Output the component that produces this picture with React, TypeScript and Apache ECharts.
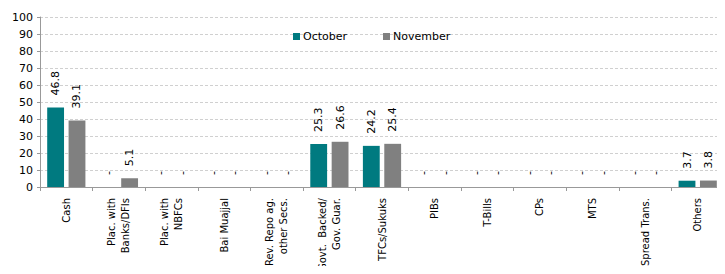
import React, { useEffect, useRef } from "react";
import * as echarts from "echarts";

const categories = [
  "Cash",
  "Plac. with\nBanks/DFIs",
  "Plac. with\nNBFCs",
  "Bai Muajjal",
  "Rev. Repo ag.\nother Secs.",
  "Govt.  Backed/\nGov. Guar.",
  "TFCs/Sukuks",
  "PIBs",
  "T-Bills",
  "CPs",
  "MTS",
  "Spread Trans.",
  "Others",
];
const october = [46.8, 0, 0, 0, 0, 25.3, 24.2, 0, 0, 0, 0, 0, 3.7];
const november = [39.1, 5.1, 0, 0, 0, 26.6, 25.4, 0, 0, 0, 0, 0, 3.8];
const seriesNames = ["October", "November"];
const colors = ["#007A80", "#808080"];

const FONT = "DejaVu Sans";

export default function App() {
  const ref = useRef<HTMLDivElement>(null);
  useEffect(() => {
    if (!ref.current) return;
    const chart = echarts.init(ref.current, undefined, { renderer: "svg" });
    const label = {
      show: true,
      position: "top",
      rotate: 90,
      align: "left",
      verticalAlign: "middle",
      distance: 12,
      fontFamily: FONT,
      fontSize: 11,
      color: "#000",
      formatter: (p: any) => (p.value === 0 ? "-" : Number(p.value).toFixed(1)),
    };
    chart.setOption({
      animation: false,
      textStyle: { fontFamily: FONT },
      legend: {
        data: seriesNames,
        left: 288,
        top: 26,
        itemWidth: 7,
        itemHeight: 7,
        itemGap: 36,
        icon: "rect",
        textStyle: { fontFamily: FONT, fontSize: 11, color: "#000", padding: [0, 0, 0, -2] },
      },
      grid: { left: 40, right: 1, top: 17, bottom: 87, containLabel: false, outerBoundsMode: "none" },
      xAxis: {
        type: "category",
        data: categories,
        axisLine: { lineStyle: { color: "#999", width: 1 } },
        axisTick: { show: true, length: 4, lineStyle: { color: "#999" } },
        axisLabel: {
          interval: 0,
          rotate: 90,
          margin: 11,
          fontFamily: FONT,
          fontSize: 10,
          lineHeight: 14,
          color: "#000",
        },
      },
      yAxis: {
        type: "value",
        min: 0,
        max: 100,
        interval: 10,
        axisLine: { show: true, lineStyle: { color: "#999" } },
        axisTick: { show: true, length: 3, lineStyle: { color: "#999" } },
        axisLabel: { fontFamily: FONT, fontSize: 11, color: "#000", margin: 7 },
        splitLine: { show: true, lineStyle: { color: "#d0d0d0", type: [3, 2] } },
      },
      series: [
        {
          name: seriesNames[0],
          type: "bar",
          data: october,
          barWidth: "32%",
          barGap: "27%",
          itemStyle: { color: colors[0] },
          label,
        },
        {
          name: seriesNames[1],
          type: "bar",
          data: november,
          barWidth: "32%",
          barGap: "27%",
          itemStyle: { color: colors[1] },
          label,
        },
      ],
    });
    return () => chart.dispose();
  }, []);
  return <div ref={ref} style={{ width: 725, height: 274, margin: -8 }} />;
}
